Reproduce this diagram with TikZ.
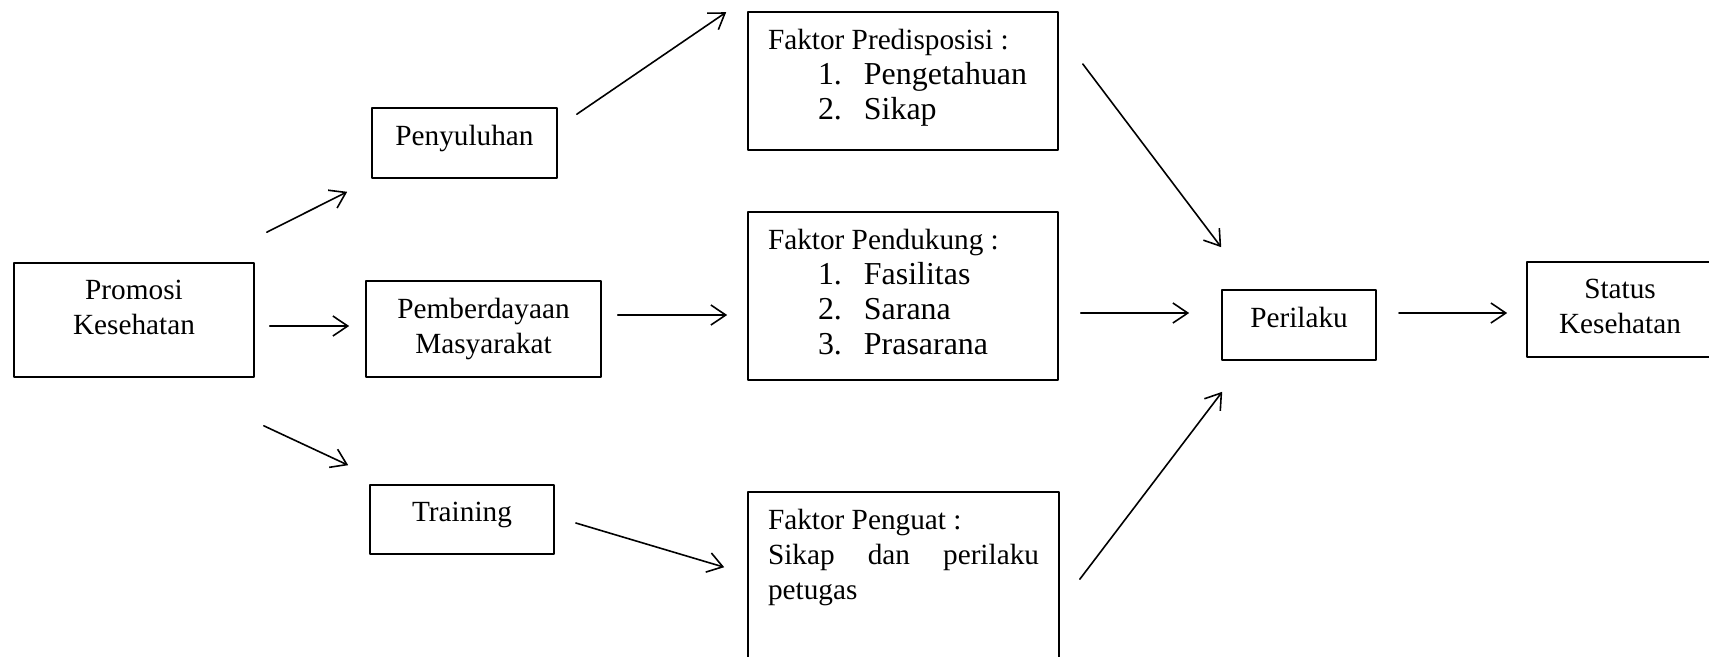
\documentclass[tikz,border=0pt]{standalone}
\usepackage{fontspec}
\setmainfont{Liberation Serif}
\usetikzlibrary{arrows.meta}
\newdimen\pxlen \pxlen=0.3759pt
\newcommand\isi[3]{\parbox[c][#2\pxlen][t]{#1\pxlen}{\vspace*{17\pxlen}#3}}
\newcommand\itm[2]{{\fontsize{12}{13.2}\selectfont\hspace*{50\pxlen}\makebox[46\pxlen][l]{#1}#2}}
\begin{document}
\begin{tikzpicture}[x=0.3759pt,y=-0.3759pt,line join=round,line cap=round,line width=0.6pt,
    >={Straight Barb[length=5.6pt,width=7.5pt]},
    kotak/.style={draw,inner sep=0pt,font=\fontsize{11}{13.2}\selectfont},
    faktor/.style={kotak,inner xsep=7.518pt}]
\useasboundingbox (0,0) rectangle (1709,656);
\node[kotak] (promosi) at (134,320) {\isi{240}{114}{\centering Promosi\\Kesehatan}};
\node[kotak] (penyuluhan) at (464.5,143) {\isi{185}{70}{\centering Penyuluhan}};
\node[kotak] (pemberdayaan) at (483.5,329) {\isi{235}{96}{\centering Pemberdayaan\\Masyarakat}};
\node[kotak] (training) at (462,519.5) {\isi{184}{69}{\centering Training}};
\node[faktor] (predisposisi) at (903,81) {\isi{270}{138}{Faktor Predisposisi :\\
    \itm{1.}{Pengetahuan}\\ \itm{2.}{Sikap}}};
\node[faktor] (pendukung) at (903,296) {\isi{270}{168}{Faktor Pendukung :\\
    \itm{1.}{Fasilitas}\\ \itm{2.}{Sarana}\\ \itm{3.}{Prasarana}}};
\node[faktor] (penguat) at (903.5,592) {\isi{271}{200}{Faktor Penguat :\\
    \makebox[271\pxlen][s]{Sikap dan perilaku}\\ petugas}};
\node[kotak] (perilaku) at (1299,325) {\isi{154}{70}{\centering Perilaku}};
\node[kotak] (status) at (1620,309.5) {\isi{186}{95}{\centering Status\\Kesehatan}};
\draw[->] ([shift={(12,-30)}]promosi.north east) -- ([shift={(-24,13)}]penyuluhan.south west);
\draw[->] ([shift={(15,6)}]promosi.east) -- ([shift={(-16,-3)}]pemberdayaan.west);
\draw[->] ([shift={(9,48)}]promosi.south east) -- ([shift={(-21,-19)}]training.north west);
\draw[->] ([shift={(19,7)}]penyuluhan.north east) -- ([shift={(-21,1)}]predisposisi.north west);
\draw[->] ([shift={(16,-14)}]pemberdayaan.east) -- ([shift={(-20,19)}]pendukung.west);
\draw[->] ([shift={(21,3.5)}]training.east) -- ([shift={(-23,76)}]penguat.north west);
\draw[->] ([shift={(24,-17)}]predisposisi.east) -- ([shift={(0,-42)}]perilaku.north west);
\draw[->] ([shift={(22,17)}]pendukung.east) -- ([shift={(-32,-12)}]perilaku.west);
\draw[->] ([shift={(20,88)}]penguat.north east) -- ([shift={(1,31)}]perilaku.south west);
\draw[->] ([shift={(22,-12)}]perilaku.east) -- ([shift={(-19,3.5)}]status.west);
\end{tikzpicture}
\end{document}
